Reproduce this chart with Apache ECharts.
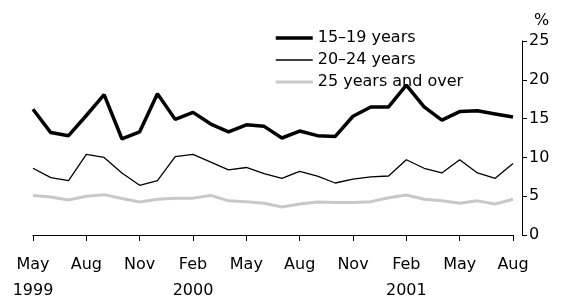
<!DOCTYPE html>
<html>
<head>
<meta charset="utf-8">
<script src="https://cdn.jsdelivr.net/npm/echarts@6/dist/echarts.min.js"></script>
<style>
body { margin: 0; }
#chart { width: 562px; height: 304px; }
</style>
</head>
<body>
<div id="chart"></div>
<script>
// months from May 1999 to Aug 2001
var months = ['May','Jun','Jul','Aug','Sep','Oct','Nov','Dec','Jan','Feb','Mar','Apr',
              'May','Jun','Jul','Aug','Sep','Oct','Nov','Dec','Jan','Feb','Mar','Apr',
              'May','Jun','Jul','Aug'];
var years = ['1999','1999','1999','1999','1999','1999','1999','1999','2000','2000','2000','2000',
             '2000','2000','2000','2000','2000','2000','2000','2000','2001','2001','2001','2001',
             '2001','2001','2001','2001'];
var seriesNames = ['15–19 years', '20–24 years', '25 years and over'];
var age15to19 = [16.2, 13.2, 12.8, 15.4, 18.1, 12.4, 13.3, 18.2, 14.9, 15.8, 14.3, 13.3, 14.2, 14.0,
                 12.5, 13.4, 12.8, 12.7, 15.3, 16.5, 16.5, 19.3, 16.5, 14.8, 15.9, 16.0, 15.6, 15.2];
var age20to24 = [8.6, 7.4, 7.0, 10.4, 10.0, 8.0, 6.4, 7.0, 10.1, 10.4, 9.4, 8.4, 8.7, 7.9,
                 7.3, 8.2, 7.6, 6.7, 7.2, 7.5, 7.6, 9.7, 8.6, 8.0, 9.7, 8.0, 7.3, 9.2];
var age25plus = [5.1, 4.9, 4.5, 5.0, 5.2, 4.7, 4.25, 4.6, 4.75, 4.75, 5.1, 4.4, 4.3, 4.1,
                 3.6, 4.0, 4.25, 4.2, 4.2, 4.3, 4.8, 5.15, 4.6, 4.4, 4.1, 4.4, 4.0, 4.6];
var categories = months.map(function (m, i) { return m + ' ' + years[i]; });

var font = 'DejaVu Sans';
var lineColors = ['#000', '#000', '#c8c8c8'];
var lineWidths = [3.5, 1.3, 3];

var chart = echarts.init(document.getElementById('chart'));

chart.setOption({
    animation: false,
    textStyle: { fontFamily: font },
    title: {
        text: '%',
        left: 529, top: 8,
        textStyle: { fontFamily: font, fontSize: 16, fontWeight: 'normal', color: '#000' }
    },
    legend: {
        orient: 'vertical',
        left: 274, top: 30,
        padding: 0,
        itemWidth: 37, itemHeight: 14, itemGap: 6,
        itemStyle: { opacity: 0 },
        textStyle: { fontFamily: font, fontSize: 16, color: '#000' },
        data: seriesNames.map(function (n, i) {
            return { name: n, lineStyle: { color: lineColors[i], width: lineWidths[i] } };
        })
    },
    grid: { left: 33, right: 49, top: 41, bottom: 68 },
    xAxis: {
        type: 'category',
        data: categories,
        boundaryGap: false,
        axisLine: { lineStyle: { color: '#000', width: 1 } },
        axisTick: { interval: 2, length: 6, lineStyle: { color: '#000' } },
        axisLabel: {
            interval: 2,
            margin: 17,
            fontSize: 16,
            lineHeight: 26,
            color: '#000',
            formatter: function (value, idx) {
                var m = months[idx];
                if (idx === 0 || m === 'Feb') return m + '\n' + years[idx];
                return m;
            }
        },
        splitLine: { show: false }
    },
    yAxis: {
        type: 'value',
        position: 'right',
        offset: 9,
        min: 0, max: 25, interval: 5,
        axisLine: { show: true, lineStyle: { color: '#000', width: 1 } },
        axisTick: { show: true, length: 5, lineStyle: { color: '#000' } },
        axisLabel: { margin: 7, fontSize: 16, color: '#000' },
        splitLine: { show: false }
    },
    series: [
        {
            name: seriesNames[2], type: 'line', data: age25plus, symbol: 'none', z: 1,
            lineStyle: { color: lineColors[2], width: lineWidths[2] }, itemStyle: { color: lineColors[2] }
        },
        {
            name: seriesNames[1], type: 'line', data: age20to24, symbol: 'none', z: 2,
            lineStyle: { color: lineColors[1], width: lineWidths[1] }, itemStyle: { color: lineColors[1] }
        },
        {
            name: seriesNames[0], type: 'line', data: age15to19, symbol: 'none', z: 3,
            lineStyle: { color: lineColors[0], width: lineWidths[0] }, itemStyle: { color: lineColors[0] }
        }
    ]
});
</script>
</body>
</html>
